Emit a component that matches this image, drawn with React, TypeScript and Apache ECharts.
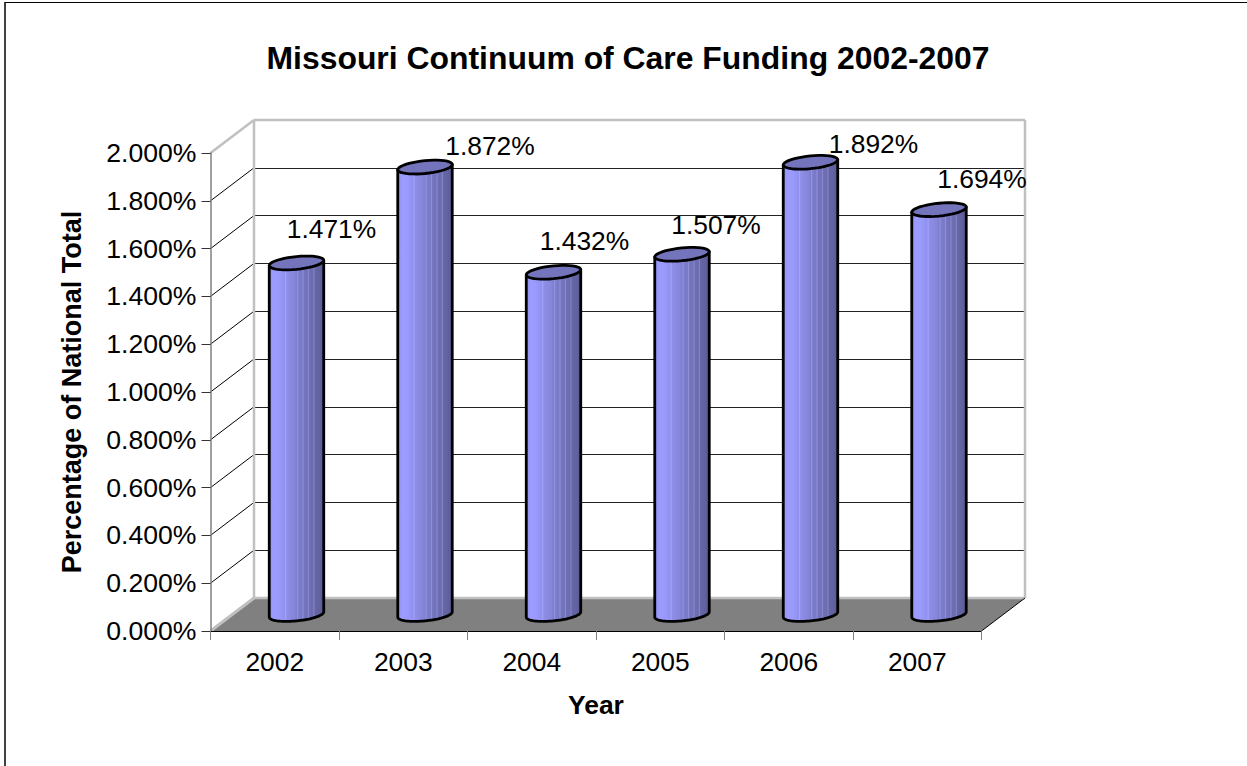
import React, { useEffect, useRef } from "react";
import * as echarts from "echarts";

const titleText = "Missouri Continuum of Care Funding 2002-2007";
const years = ["2002", "2003", "2004", "2005", "2006", "2007"];
const shares = [1.471, 1.872, 1.432, 1.507, 1.892, 1.694];
const shareLabels = ["1.471%", "1.872%", "1.432%", "1.507%", "1.892%", "1.694%"];
const yTicks = [0, 0.2, 0.4, 0.6, 0.8, 1, 1.2, 1.4, 1.6, 1.8, 2];
const yAxisTitle = "Percentage of National Total";
const xAxisTitle = "Year";

// Label displacement from each cylinder's top centre, px
const labelDx = [35, 65, 31, 34, 63, 43];
const labelDy = [-34, -21, -31, -29, -18, -31];

const FONT = '"Liberation Sans", Arial, sans-serif';
const FRONT = { left: 210.5, top: 153, width: 771, height: 478 };
const DEPTH_X = 43.5;
const DEPTH_Y = 33;

const bodyStops = [
  [0, "#9090f0"], [0.08, "#9c9cff"], [0.18, "#9a9afc"], [0.28, "#9090ee"], [0.3, "#a4a4fc"], [0.32, "#8e8ee8"],
  [0.46, "#8686da"], [0.5, "#7e7ed0"], [0.52, "#9494e0"], [0.54, "#7c7ccd"], [0.6, "#7979c8"], [0.62, "#9090d8"],
  [0.64, "#7474be"], [0.7, "#7272ba"], [0.72, "#8888cc"], [0.74, "#6e6eb4"], [0.8, "#6c6cb0"], [0.82, "#8282c4"],
  [0.84, "#6666a8"], [0.92, "#6262a0"], [1, "#585892"],
].map(([offset, color]) => ({ offset: offset as number, color: color as string }));

function skewedArc(cx: number, cy: number, rx: number, ry: number, tilt: number, from: number, to: number) {
  const pts: number[][] = [];
  const n = 40;
  for (let i = 0; i <= n; i++) {
    const t = from + ((to - from) * i) / n;
    pts.push([cx + rx * Math.cos(t), cy + ry * Math.sin(t) - tilt * Math.cos(t)]);
  }
  return pts;
}

export default function App() {
  const ref = useRef<HTMLDivElement>(null);
  useEffect(() => {
    const chart = echarts.init(ref.current!, undefined, { renderer: "svg" });
    const bodyFill = new echarts.graphic.LinearGradient(0, 0, 1, 0, bodyStops);

    const renderWalls = (params: any, api: any) => {
      const c = params.coordSys;
      const l = c.x, r = c.x + c.width, t = c.y, b = c.y + c.height;
      const silver = "#c0c0c0";
      const children: any[] = [
        { type: "polygon", shape: { points: [[l - DEPTH_X, b + DEPTH_Y], [r - DEPTH_X, b + DEPTH_Y], [r, b], [l, b]] }, style: { fill: "#808080" } },
      ];
      yTicks.slice(1, -1).forEach((v) => {
        const y = api.coord([0, v])[1];
        children.push({ type: "line", shape: { x1: l - DEPTH_X, y1: y + DEPTH_Y, x2: l, y2: y }, style: { stroke: "#000", lineWidth: 1 } });
      });
      const edge = (x1: number, y1: number, x2: number, y2: number, color: string, w: number) => ({
        type: "line", shape: { x1, y1, x2, y2 }, style: { stroke: color, lineWidth: w },
      });
      children.push(
        edge(l - DEPTH_X, t + DEPTH_Y, l, t, silver, 2.5),
        edge(l - DEPTH_X, b + DEPTH_Y, l, b, silver, 3),
        edge(l, t, r, t, silver, 2.5),
        edge(l, t, l, b, silver, 2.5),
        edge(r, t, r, b, silver, 2.5),
        edge(l, b, r, b, silver, 2.5),
        edge(r - DEPTH_X, b + DEPTH_Y, r, b, "#000", 1),
      );
      return { type: "group", silent: true, children };
    };

    const renderCylinder = (params: any, api: any) => {
      const i = api.value(0);
      const v = api.value(1);
      const [cx, top] = api.coord([i, v]);
      const [, base] = api.coord([i, 0]);
      const rx = api.size([1, 0])[0] * 0.212;
      const ry = 6.4;
      const tilt = 2.6;
      const lower = skewedArc(cx, base, rx, ry, tilt, 0, Math.PI);
      const points = [[cx - rx, top + tilt], [cx + rx, top - tilt], ...lower];
      const rim = skewedArc(cx, top, rx, ry, tilt, 0, Math.PI * 2);
      const idx = params.dataIndex;
      return {
        type: "group",
        silent: true,
        children: [
          { type: "polygon", shape: { points }, style: { fill: bodyFill, stroke: "#000", lineWidth: 2.8, lineJoin: "round" } },
          { type: "polygon", shape: { points: rim }, style: { fill: "#7474bc", stroke: "#000", lineWidth: 2.8 } },
          {
            type: "text",
            style: {
              text: shareLabels[idx],
              x: cx + labelDx[idx],
              y: top + labelDy[idx],
              align: "center",
              verticalAlign: "middle",
              fill: "#000",
              font: `26.4px ${FONT}`,
            },
          },
        ],
      };
    };

    const hidden = { show: false };
    const yFormat = (v: number) => v.toFixed(3) + "%";

    chart.setOption({
      animation: false,
      backgroundColor: "#fff",
      title: {
        text: titleText,
        left: 623,
        top: 37,
        textAlign: "center",
        textStyle: { fontFamily: FONT, fontWeight: "bold", fontSize: 31.9, color: "#000" },
      },
      graphic: [
        { type: "line", shape: { x1: 5, y1: 2.5, x2: 1247, y2: 2.5 }, style: { stroke: "#000", lineWidth: 1 }, silent: true },
        { type: "line", shape: { x1: 5, y1: 2, x2: 5, y2: 766 }, style: { stroke: "#111", lineWidth: 1.6 }, silent: true },
      ],
      grid: [
        { ...FRONT },
        { left: FRONT.left + DEPTH_X, top: FRONT.top - DEPTH_Y, width: FRONT.width, height: FRONT.height },
        { left: FRONT.left + DEPTH_X / 2, top: FRONT.top - DEPTH_Y / 2, width: FRONT.width, height: FRONT.height },
      ],
      xAxis: [
        {
          gridIndex: 0, type: "category", data: years, z: 5,
          axisLine: { lineStyle: { color: "#000", width: 1 } },
          axisTick: { show: true, alignWithLabel: false, length: 9, lineStyle: { color: "#808080" } },
          axisLabel: { fontFamily: FONT, fontSize: 26.4, color: "#000", margin: 18 },
          name: xAxisTitle, nameLocation: "middle", nameGap: 61,
          nameTextStyle: { fontFamily: FONT, fontSize: 26.4, fontWeight: "bold", color: "#000" },
        },
        { gridIndex: 1, type: "category", data: years, axisLine: hidden, axisTick: hidden, axisLabel: hidden },
        { gridIndex: 2, type: "category", data: years, axisLine: hidden, axisTick: hidden, axisLabel: hidden },
      ],
      yAxis: [
        {
          gridIndex: 0, type: "value", min: 0, max: 2, interval: 0.2, z: 5,
          axisLine: { show: true, lineStyle: { color: "#808080", width: 1.5 } },
          axisTick: { show: true, length: 9, lineStyle: { color: "#333" } },
          axisLabel: { fontFamily: FONT, fontSize: 26.6, color: "#000", margin: 14, formatter: yFormat },
          splitLine: hidden,
          name: yAxisTitle, nameLocation: "middle", nameGap: 125, nameRotate: 90,
          nameTextStyle: { fontFamily: FONT, fontSize: 27, fontWeight: "bold", color: "#000" },
        },
        {
          gridIndex: 1, type: "value", min: 0, max: 2, interval: 0.2,
          axisLine: hidden, axisTick: hidden, axisLabel: hidden,
          splitLine: { show: true, lineStyle: { color: "#222", width: 1 } },
        },
        { gridIndex: 2, type: "value", min: 0, max: 2, interval: 0.2, axisLine: hidden, axisTick: hidden, axisLabel: hidden, splitLine: hidden },
      ],
      series: [
        { type: "custom", xAxisIndex: 1, yAxisIndex: 1, z: 2, clip: false, renderItem: renderWalls, data: [[0, 0]] },
        { type: "custom", xAxisIndex: 2, yAxisIndex: 2, z: 3, clip: false, renderItem: renderCylinder, data: shares.map((v, i) => [i, v]) },
      ],
    });
    return () => chart.dispose();
  }, []);
  return <div ref={ref} style={{ position: "fixed", left: 0, top: 0, width: 1247, height: 766 }} />;
}
